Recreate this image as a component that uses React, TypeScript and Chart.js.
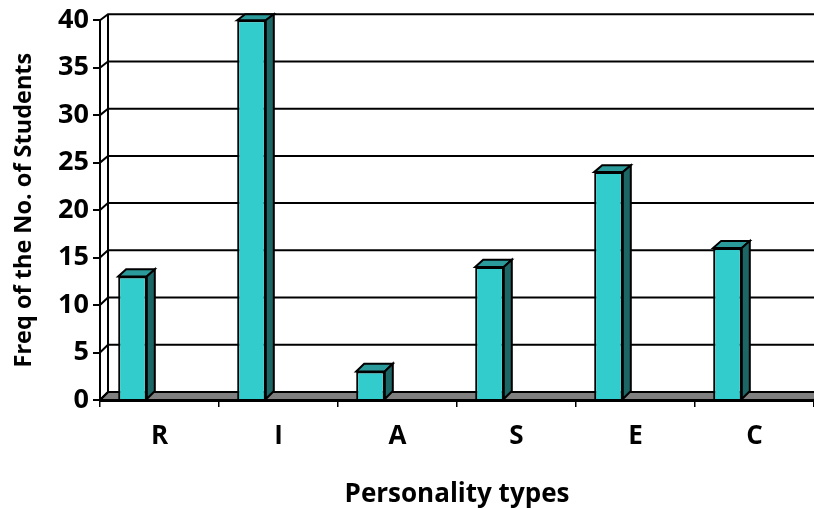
import React, { useEffect, useRef } from "react";
import { Chart, registerables } from "chart.js";

Chart.register(...registerables);

const categories = ["R", "I", "A", "S", "E", "C"];
const frequencies = [13, 40, 3, 14, 24, 16];
const xTitle = "Personality types";
const yTitle = "Freq of the No. of Students";

const FONT = "'Open Sans', Lato, sans-serif";
const DX = 8;

const depthPlugin = {
  id: "depth",
  beforeDatasetsDraw(chart: any) {
    const { ctx, chartArea, scales } = chart;
    const { left, right, bottom } = chartArea;
    const y = scales.y;
    const back = (py: number) => py - 6 - (2 * (py - chartArea.top)) / (bottom - chartArea.top);
    ctx.save();
    ctx.beginPath();
    ctx.rect(0, 0, right, bottom + 10);
    ctx.clip();
    // floor
    ctx.beginPath();
    ctx.moveTo(left, bottom);
    ctx.lineTo(left + DX, back(bottom));
    ctx.lineTo(right + DX, back(bottom));
    ctx.lineTo(right, bottom);
    ctx.closePath();
    ctx.fillStyle = "#808080";
    ctx.fill();
    ctx.strokeStyle = "#000";
    ctx.lineWidth = 2;
    ctx.stroke();
    // back wall vertical + grid lines + side wall diagonals
    ctx.beginPath();
    ctx.moveTo(left + DX, back(chartArea.top));
    ctx.lineTo(left + DX, back(bottom));
    ctx.stroke();
    y.ticks.forEach((t: any) => {
      const py = y.getPixelForValue(t.value);
      ctx.beginPath();
      ctx.moveTo(left, py);
      ctx.lineTo(left + DX, back(py));
      ctx.lineTo(right, back(py));
      ctx.stroke();
    });
    ctx.restore();
  },
  afterDatasetsDraw(chart: any) {
    const { ctx, chartArea } = chart;
    const back = (py: number) =>
      py - 6 - (2 * (py - chartArea.top)) / (chartArea.bottom - chartArea.top);
    const meta = chart.getDatasetMeta(0);
    ctx.save();
    ctx.strokeStyle = "#000";
    ctx.lineWidth = 2;
    ctx.lineJoin = "miter";
    meta.data.forEach((bar: any) => {
      const p = bar.getProps(["x", "y", "base", "width"], true);
      const l = p.x - p.width / 2;
      const r = p.x + p.width / 2;
      // top face
      ctx.beginPath();
      ctx.moveTo(l, p.y);
      ctx.lineTo(l + DX, back(p.y));
      ctx.lineTo(r + DX, back(p.y));
      ctx.lineTo(r, p.y);
      ctx.closePath();
      ctx.fillStyle = "#2A9A9A";
      ctx.fill();
      ctx.stroke();
      // side face
      ctx.beginPath();
      ctx.moveTo(r, p.y);
      ctx.lineTo(r + DX, back(p.y));
      ctx.lineTo(r + DX, back(p.base));
      ctx.lineTo(r, p.base);
      ctx.closePath();
      ctx.fillStyle = "#1C6666";
      ctx.fill();
      ctx.stroke();
    });
    ctx.restore();
  },
};

export default function App() {
  const ref = useRef<HTMLCanvasElement>(null);
  useEffect(() => {
    const chart = new Chart(ref.current!, {
      type: "bar",
      plugins: [depthPlugin],
      data: {
        labels: categories,
        datasets: [
          {
            label: "Frequency",
            data: frequencies,
            backgroundColor: "#33CCCC",
            borderColor: "#000",
            borderWidth: 2,
            categoryPercentage: 0.908,
            barPercentage: 0.53,
          },
          // an empty series holds the slot that puts the bars left of each label
          {
            label: "",
            data: [],
            categoryPercentage: 0.908,
            barPercentage: 0.53,
          },
        ],
      },
      options: {
        responsive: false,
        animation: false,
        layout: { padding: { top: 20, right: 0, left: 0, bottom: 0 } },
        plugins: { legend: { display: false }, tooltip: { enabled: false } },
        scales: {
          x: {
            afterFit: (s: any) => {
              s.height = 108;
            },
            border: { color: "#000", width: 3 },
            grid: {
              drawOnChartArea: false,
              drawTicks: true,
              tickLength: 7,
              color: "#000",
              lineWidth: 1.5,
            },
            ticks: {
              color: "#000",
              padding: 14,
              maxRotation: 0,
              font: { family: FONT, weight: "bold", size: 26 },
            },
            title: {
              display: true,
              text: xTitle,
              color: "#000",
              font: { family: FONT, weight: "bold", size: 26 },
              padding: { top: 0, bottom: -2 },
            },
          },
          y: {
            min: 0,
            max: 40,
            afterFit: (s: any) => {
              s.width = 100;
            },
            border: { color: "#000", width: 2 },
            grid: {
              drawOnChartArea: false,
              drawTicks: true,
              tickLength: 7,
              color: "#000",
              lineWidth: 2,
            },
            ticks: {
              color: "#000",
              stepSize: 5,
              padding: 4,
              font: { family: FONT, weight: "bold", size: 27 },
            },
            title: {
              display: true,
              text: yTitle,
              color: "#000",
              font: { family: FONT, weight: "bold", size: 23.5 },
              padding: { top: 10, bottom: 0 },
            },
          },
        },
      },
    } as any);
    return () => chart.destroy();
  }, []);
  return (
    <div style={{ position: "fixed", left: 0, top: 0, width: 814, height: 508, background: "#fff" }}>
      <canvas ref={ref} width={814} height={508} style={{ display: "block" }} />
    </div>
  );
}
